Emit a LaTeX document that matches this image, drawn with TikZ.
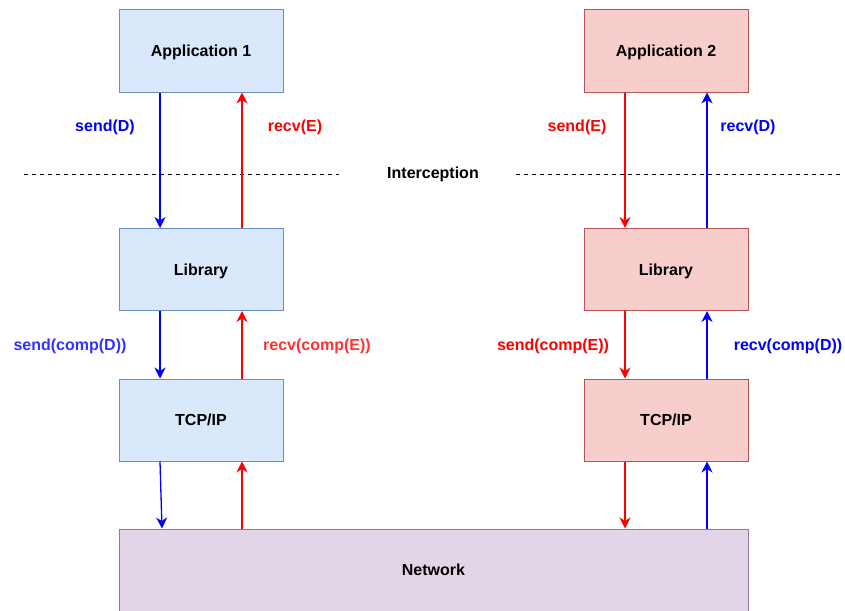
\documentclass[tikz,border=0pt]{standalone}
\usepackage{fontspec}
\setmainfont{Liberation Sans}
\usetikzlibrary{arrows.meta}
\definecolor{bluefill}{HTML}{DAE8FC}
\definecolor{bluestroke}{HTML}{6C8EBF}
\definecolor{redfill}{HTML}{F8CECC}
\definecolor{redstroke}{HTML}{B85450}
\definecolor{purplefill}{HTML}{E1D5E7}
\definecolor{purplestroke}{HTML}{9673A6}
\definecolor{sendblue}{HTML}{0000FF}
\definecolor{sendred}{HTML}{FF0000}
\definecolor{softblue}{HTML}{3333FF}
\definecolor{softred}{HTML}{FF3333}
\tikzset{
  bigtext/.style={font=\bfseries\fontsize{16}{19}\selectfont, text height=11.5pt, text depth=0pt},
  layer/.style={draw, line width=1pt, minimum width=164pt, minimum height=82pt,
    inner sep=0pt, bigtext, text=black},
  hostA/.style={layer, fill=bluefill, draw=bluestroke},
  hostB/.style={layer, fill=redfill, draw=redstroke},
  flow/.style={line width=1.3pt, -{Stealth[length=11pt,width=11pt,inset=3.5pt]}},
  bflow/.style={flow, draw=sendblue},
  rflow/.style={flow, draw=sendred},
  lbl/.style={bigtext, inner sep=0pt},
  sep/.style={dashed, line width=1pt, dash pattern=on 4pt off 4pt}
}
\begin{document}
\begin{tikzpicture}[x=1pt,y=-1pt]
\useasboundingbox[fill=white] (0,0) rectangle (845,610);

% host 1 stack
\node[hostA] (app1) at (201,51) {Application 1};
\node[hostA] (lib1) at (201,269.5) {Library};
\node[hostA] (tcp1) at (201,420) {TCP/IP};

% host 2 stack
\node[hostB] (app2) at (666,51) {Application 2};
\node[hostB] (lib2) at (666,269.5) {Library};
\node[hostB] (tcp2) at (666,420) {TCP/IP};

% shared network
\node[layer, fill=purplefill, draw=purplestroke, minimum width=629pt, minimum height=90pt]
  (net) at (433.5,574) {};
\node[lbl] (netlbl) at (433.5,570) {Network};

% interception boundary
\node[lbl] (icpt) at (433,173) {Interception};
\coordinate (sepA0) at (24,174);
\coordinate (sepA1) at (339,174);
\coordinate (sepB0) at (516,174);
\coordinate (sepB1) at (840,174);
\draw[sep] (sepA0) -- (sepA1);
\draw[sep] (sepB0) -- (sepB1);

% host 1 flows
\draw[bflow] ([xshift=-41pt]app1.south) -- ([xshift=-41pt]lib1.north);
\draw[rflow] ([xshift=41pt]lib1.north) -- ([xshift=41pt]app1.south);
\draw[bflow] ([xshift=-41pt]lib1.south) -- ([xshift=-41pt]tcp1.north);
\draw[rflow] ([xshift=41pt]tcp1.north) -- ([xshift=41pt]lib1.south);
\draw[bflow] ([xshift=-41pt]tcp1.south) -- ([xshift=-39pt]tcp1.south |- net.north);
\draw[rflow] ([xshift=41pt]tcp1.south |- net.north) -- ([xshift=41pt]tcp1.south);

% host 2 flows
\draw[rflow] ([xshift=-41pt]app2.south) -- ([xshift=-41pt]lib2.north);
\draw[bflow] ([xshift=41pt]lib2.north) -- ([xshift=41pt]app2.south);
\draw[rflow] ([xshift=-41pt]lib2.south) -- ([xshift=-41pt]tcp2.north);
\draw[bflow] ([xshift=41pt]tcp2.north) -- ([xshift=41pt]lib2.south);
\draw[rflow] ([xshift=-41pt]tcp2.south) -- ([xshift=-41pt]tcp2.south |- net.north);
\draw[bflow] ([xshift=41pt]tcp2.south |- net.north) -- ([xshift=41pt]tcp2.south);

% call labels
\node[lbl, text=sendblue] (l1) at (105,126) {send(D)};
\node[lbl, text=sendred] (l2) at (295,126) {recv(E)};
\node[lbl, text=sendred] (l3) at (577,126) {send(E)};
\node[lbl, text=sendblue] (l4) at (748,126) {recv(D)};
\node[lbl, text=softblue] (l5) at (70,345) {send(comp(D))};
\node[lbl, text=softred] (l6) at (317,345) {recv(comp(E))};
\node[lbl, text=sendred] (l7) at (553,345) {send(comp(E))};
\node[lbl, text=sendblue] (l8) at (788,345) {recv(comp(D))};
\end{tikzpicture}
\end{document}
